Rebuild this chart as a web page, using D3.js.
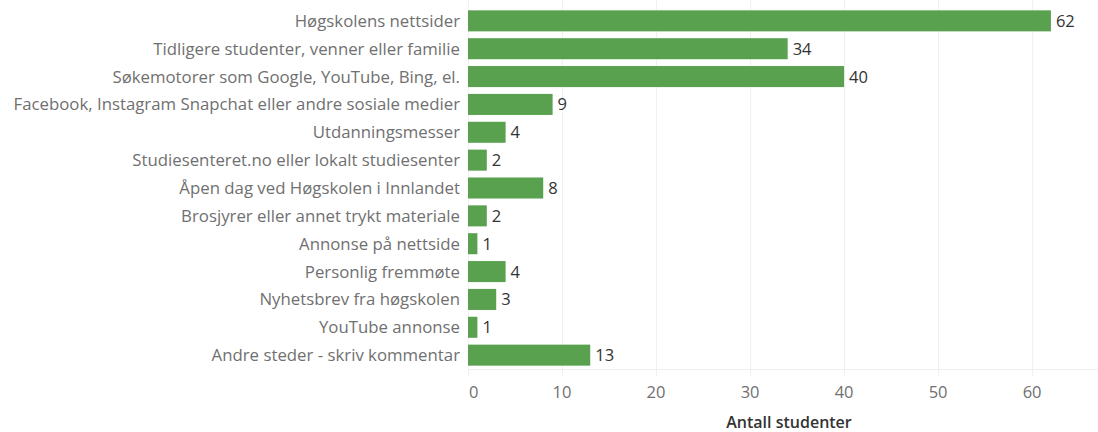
<!DOCTYPE html>
<html>
<head>
<meta charset="utf-8">
<script src="https://cdn.jsdelivr.net/npm/d3@7"></script>
<style>
  body { margin: 0; background: #fff; }
  text { font-family: "Open Sans", "Noto Sans", sans-serif; }
</style>
</head>
<body>
<div id="chart"></div>
<script>
// categories (top to bottom) and the number of students for each
var categories = [
  'Høgskolens nettsider',
  'Tidligere studenter, venner eller familie',
  'Søkemotorer som Google, YouTube, Bing, el.',
  'Facebook, Instagram Snapchat eller andre sosiale medier',
  'Utdanningsmesser',
  'Studiesenteret.no eller lokalt studiesenter',
  'Åpen dag ved Høgskolen i Innlandet',
  'Brosjyrer eller annet trykt materiale',
  'Annonse på nettside',
  'Personlig fremmøte',
  'Nyhetsbrev fra høgskolen',
  'YouTube annonse',
  'Andre steder - skriv kommentar'
];
var values = [62, 34, 40, 9, 4, 2, 8, 2, 1, 4, 3, 1, 13];
var ticks = [0, 10, 20, 30, 40, 50, 60];

var width = 1098, height = 432;
var plotLeft = 468, plotRight = 1097, plotTop = 7, plotBottom = 369;

var svg = d3.select('#chart').append('svg')
    .attr('width', width)
    .attr('height', height);

var x = d3.scaleLinear().domain([0, 66.9]).range([plotLeft, plotRight]);
var y = d3.scaleBand().domain(categories).range([plotTop, plotBottom])
    .paddingInner(0.245).paddingOuter(0.12);

// vertical gridlines
svg.selectAll('.grid')
    .data(ticks).enter()
    .append('line')
      .attr('x1', function(d) { return x(d) + 0.5; })
      .attr('x2', function(d) { return x(d) + 0.5; })
      .attr('y1', 0)
      .attr('y2', plotBottom + 7)
      .attr('stroke', '#f0f0f0')
      .attr('stroke-width', 1);

// bottom axis line
svg.append('line')
    .attr('x1', plotLeft).attr('x2', width)
    .attr('y1', plotBottom + 0.5).attr('y2', plotBottom + 0.5)
    .attr('stroke', '#f0f0f0');

// tick labels
svg.selectAll('.tick')
    .data(ticks).enter()
    .append('text')
      .attr('x', function(d) { return d === 0 ? x(d) + 1 : x(d); })
      .attr('y', 398)
      .attr('text-anchor', function(d) { return d === 0 ? 'start' : 'middle'; })
      .attr('fill', '#707070')
      .style('font-size', '16.5px')
      .text(function(d) { return d; });

// axis title
svg.append('text')
    .attr('x', 789)
    .attr('y', 428)
    .attr('text-anchor', 'middle')
    .attr('fill', '#333')
    .style('font-size', '16px')
    .style('font-weight', '600')
    .text('Antall studenter');

// bars
svg.selectAll('.bar')
    .data(values).enter()
    .append('rect')
      .attr('x', x(0))
      .attr('y', function(d, i) { return y(categories[i]); })
      .attr('width', function(d) { return x(d) - x(0); })
      .attr('height', y.bandwidth())
      .attr('fill', '#59a14f');

// value labels
svg.selectAll('.val')
    .data(values).enter()
    .append('text')
      .attr('x', function(d) { return x(d) + 5; })
      .attr('y', function(d, i) { return y(categories[i]) + y.bandwidth() / 2; })
      .attr('dy', '0.36em')
      .attr('fill', '#333')
      .style('font-size', '16.5px')
      .text(function(d) { return d; });

// category labels
svg.selectAll('.cat')
    .data(categories).enter()
    .append('text')
      .attr('x', 460)
      .attr('y', function(d) { return y(d) + y.bandwidth() / 2; })
      .attr('dy', '0.36em')
      .attr('text-anchor', 'end')
      .attr('fill', '#707070')
      .style('font-size', '16.8px')
      .text(function(d) { return d; });
</script>
</body>
</html>
